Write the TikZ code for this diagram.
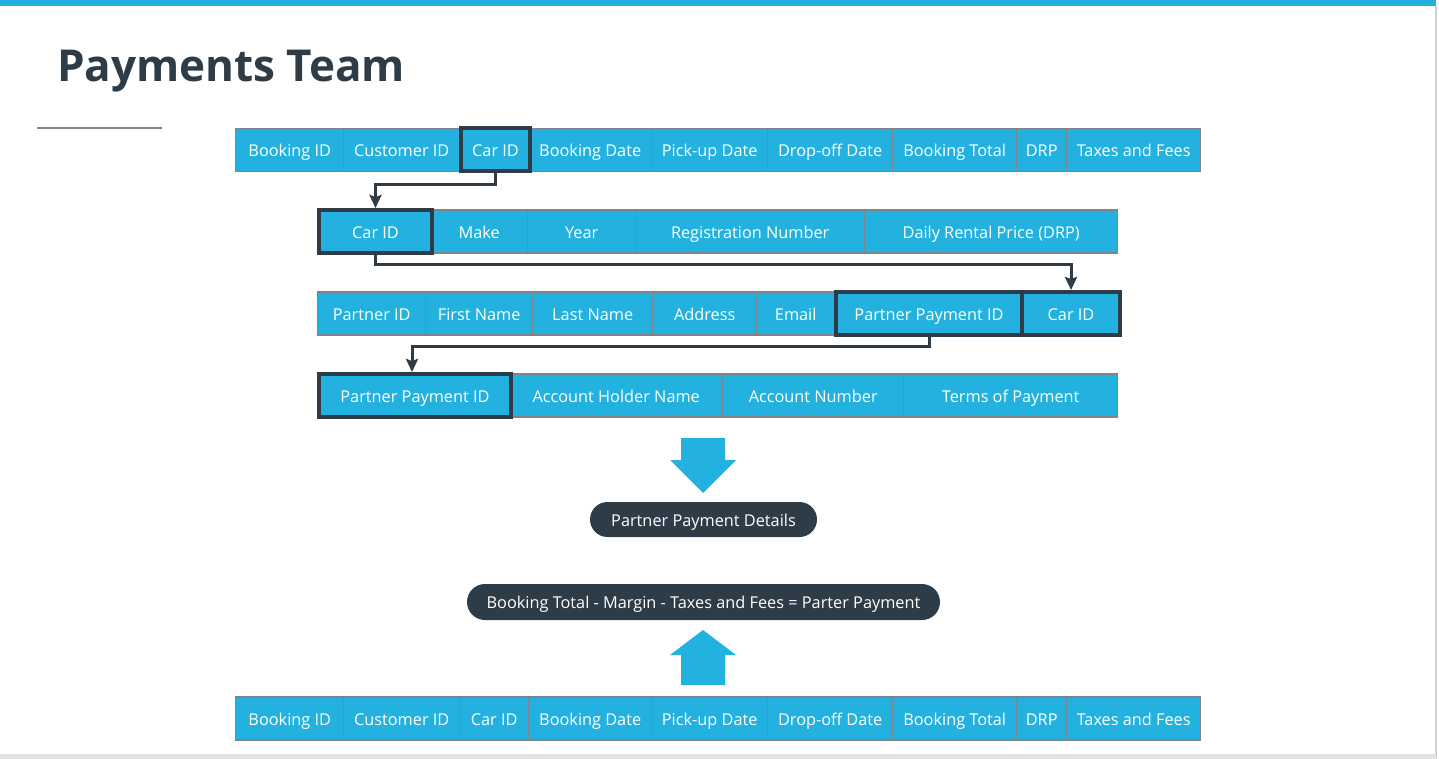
\documentclass[tikz,border=0pt]{standalone}
\usepackage{fontspec}
\setmainfont{Open Sans}
\usepackage{tikz}
\usetikzlibrary{arrows.meta,positioning}
\definecolor{tableblue}{RGB}{35, 178, 224}
\definecolor{darkslate}{RGB}{46, 60, 72}
\definecolor{cellgray}{RGB}{125, 132, 140}
\definecolor{edgegray}{RGB}{205, 208, 212}

\begin{document}
\begin{tikzpicture}[x=1pt, y=-1pt,
		cell/.style={draw=cellgray, line width=1.4pt, fill=tableblue, text=white,
			minimum height=43pt, inner sep=0pt, text height=13.4pt, text depth=0pt,
			anchor=west, font=\fontsize{16.3}{18}\selectfont},
		keycell/.style={cell, draw=darkslate, line width=4pt},
		link/.style={darkslate, line width=3pt, -{Stealth[length=13pt, width=12pt, inset=2pt]}},
		pill/.style={fill=darkslate, text=white, rounded corners=17.5pt, minimum height=35pt,
			inner sep=0pt, text height=13.4pt, text depth=0pt, font=\fontsize{16.3}{18}\selectfont},
		bigarrow/.style={fill=tableblue}]
	\useasboundingbox (0,0) rectangle (1439,759);
	% slide frame
	\fill[tableblue] (0,0) rectangle (1436,6);
	\draw[edgegray, line width=1.5pt] (1436,6) -- (1436,759);
	\fill[edgegray!60] (0,754) rectangle (1436,759);
	\node[anchor=base west, text=darkslate, inner sep=0pt, font=\fontsize{44}{50}\bfseries\selectfont] (title) at (57,82) {Payments Team};
	\draw[cellgray, line width=1.5pt] (37,128) -- (162,128);

	% bookings
	\foreach \n/\x/\w/\t in {bookA/235/108/Booking ID, custA/343/116/Customer ID,
			bdateA/528/123/Booking Date, pickA/651/116/Pick-up Date, dropA/767/125/Drop-off Date,
			totalA/892/124/Booking Total, drpA/1016/50/DRP, taxA/1066/134/Taxes and Fees} {
		\node[cell, minimum width=\w] (\n) at (\x,150) {\t};
	}
	\node[keycell, minimum width=69] (carA) at (459,150) {Car ID};

	% cars
	\foreach \n/\x/\w/\t in {makeB/430/97/Make, yearB/527/108/Year,
			regB/635/229/Registration Number, dailyB/864/253/Daily Rental Price (DRP)} {
		\node[cell, minimum width=\w] (\n) at (\x,231.5) {\t};
	}
	\node[keycell, minimum width=113] (carB) at (317,231.5) {Car ID};

	% partners
	\foreach \n/\x/\w/\t in {partC/317/108/Partner ID, firstC/425/107/First Name,
			lastC/532/120/Last Name, addrC/652/104/Address, mailC/756/78/Email} {
		\node[cell, minimum width=\w] (\n) at (\x,313.5) {\t};
	}
	\node[keycell, minimum width=186] (ppidC) at (834,313.5) {Partner Payment ID};
	\node[keycell, minimum width=98] (carC) at (1020,313.5) {Car ID};

	% partner payments
	\foreach \n/\x/\w/\t in {holderD/509/213/Account Holder Name,
			accD/722/181/Account Number, termsD/903/214/Terms of Payment} {
		\node[cell, minimum width=\w] (\n) at (\x,395.5) {\t};
	}
	\node[keycell, minimum width=192] (ppidD) at (317,395.5) {Partner Payment ID};

	% key links
	\draw[link] (carA.south) -- ++(0,11) -| (carB.north);
	\draw[link] (carB.south) -- ++(0,9) -| (carC.north);
	\draw[link] (ppidC.south) -- ++(0,9) -| ([xshift=-3pt]ppidD.north);

	% result
	\fill[bigarrow] (681,438) -- (725,438) -- (725,460) -- (736,460) -- (703,493)
		-- (670,460) -- (681,460) -- cycle;
	\node[pill, minimum width=227] (details) at (703.5,519.5) {Partner Payment Details};
	\node[pill, minimum width=473, minimum height=36, rounded corners=18pt] (formula) at (703.5,602)
		{Booking Total - Margin - Taxes and Fees = Parter Payment};
	\fill[bigarrow] (703,630) -- (736,655) -- (725,655) -- (725,685) -- (681,685)
		-- (681,655) -- (670,655) -- cycle;

	% bookings again
	\foreach \n/\x/\w/\t in {bookE/235/108/Booking ID, custE/343/116/Customer ID, carE/459/69/Car ID,
			bdateE/528/123/Booking Date, pickE/651/116/Pick-up Date, dropE/767/125/Drop-off Date,
			totalE/892/124/Booking Total, drpE/1016/50/DRP, taxE/1066/134/Taxes and Fees} {
		\node[cell, minimum width=\w] (\n) at (\x,718.5) {\t};
	}
\end{tikzpicture}
\end{document}
